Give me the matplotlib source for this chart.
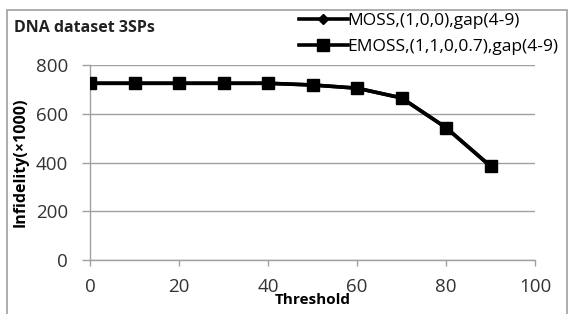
import matplotlib
matplotlib.use("Agg")
import matplotlib.pyplot as plt
from matplotlib.patches import Rectangle

threshold = [0, 10, 20, 30, 40, 50, 60, 70, 80, 90]
moss = [725, 725, 725, 725, 725, 718, 705, 665, 543, 385]
emoss = [725, 725, 725, 725, 725, 718, 705, 665, 543, 385]
xticks = [0, 20, 40, 60, 80, 100]
yticks = [0, 200, 400, 600, 800]

W, H = 568, 314
fig = plt.figure(figsize=(W / 100, H / 100), dpi=100)
plt.rcParams['font.family'] = ['Open Sans', 'DejaVu Sans']

ax = fig.add_axes([90 / W, 1 - 260 / H, (535 - 90) / W, (260 - 65) / H])

ax.plot(threshold, moss, color='black', lw=2.6, marker='D', ms=5,
        label='MOSS,(1,0,0),gap(4-9)', zorder=3)
ax.plot(threshold, emoss, color='black', lw=2.6, marker='s', ms=9,
        label='EMOSS,(1,1,0,0.7),gap(4-9)', zorder=4)

ax.set_xlim(0, 100)
ax.set_ylim(0, 800)
ax.set_xticks(xticks)
ax.set_yticks(yticks)
ax.grid(axis='y', color='#a0a0a0', lw=1)
ax.set_axisbelow(True)
for s in ['top', 'right']:
    ax.spines[s].set_visible(False)
for s in ['left', 'bottom']:
    ax.spines[s].set_color('#a0a0a0')
    ax.spines[s].set_linewidth(1)
ax.tick_params(axis='both', colors='#a0a0a0', labelcolor='#333333',
               labelsize=13.5, width=1, direction='out')
ax.tick_params(axis='x', pad=9, length=4)
ax.tick_params(axis='y', pad=10, length=6)

ax.set_xlabel('Threshold', fontsize=11, fontweight='bold', labelpad=-2)
ax.set_ylabel('Infidelity(×1000)', fontsize=11.5, fontweight='bold', labelpad=5)

fig.text(14 / W, 1 - 28 / H, 'DNA dataset 3SPs', fontsize=11.5,
         fontweight='bold', color='#222222', va='center', ha='left')

leg = ax.legend(loc='upper right', bbox_to_anchor=(562 / W, 1 - 9 / H),
                bbox_transform=fig.transFigure, frameon=False, fontsize=12.5,
                handlelength=2.8, handletextpad=0.0, labelspacing=0.6,
                borderpad=0.2, borderaxespad=0)

fig.patches.append(Rectangle((7 / W, -0.05), (567 - 7) / W, 1 - 10 / H + 0.05,
                             transform=fig.transFigure, fill=False,
                             edgecolor='#a0a0a0', lw=1.2))

fig.savefig('out.png', dpi=100)
